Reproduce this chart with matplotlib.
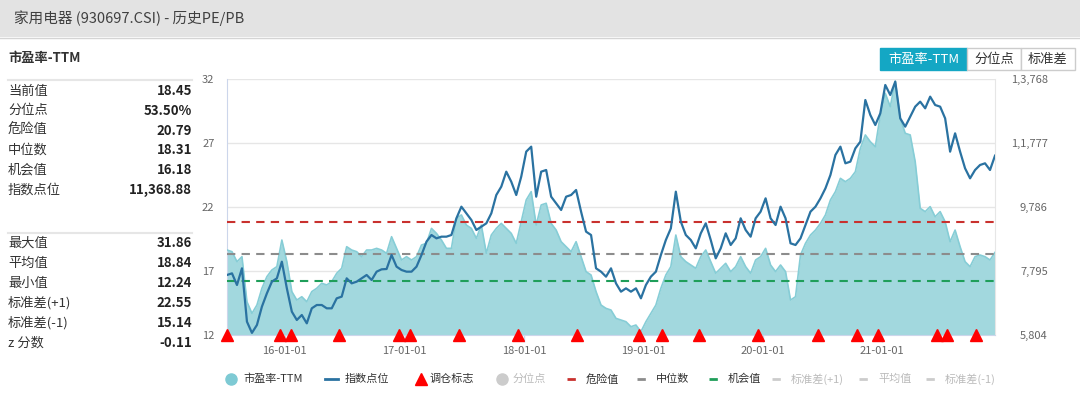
import matplotlib
matplotlib.use("Agg")
import matplotlib.pyplot as plt
from matplotlib.lines import Line2D
from matplotlib.patches import Rectangle
import numpy as np
import pandas as pd

plt.rcParams['font.family'] = ['Noto Sans CJK SC', 'DejaVu Sans']

# ---------------- data ----------------
start_date = "2015-07-08"
end_date = "2021-12-12"

pe_values = [
    18.64, 18.51, 17.73, 18.12, 14.60, 13.69, 14.34, 15.65, 16.56, 17.08,
    17.34, 19.42, 17.73, 15.39, 14.73, 14.99, 14.60, 15.39, 15.65, 16.04,
    15.91, 16.17, 16.82, 17.21, 18.90, 18.64, 18.51, 18.12, 18.64, 18.64,
    18.77,
    18.64, 18.38, 19.68, 18.77, 17.86, 18.12, 17.86, 18.12, 19.03, 19.16,
    20.33, 19.94, 19.42, 18.77, 18.77, 21.11, 21.38, 20.59, 20.33, 19.55,
    20.59, 18.38, 19.81, 20.33, 20.72, 20.33, 19.94, 19.16, 20.85, 22.55,
    23.20,
    20.59, 22.16, 22.29, 20.72, 20.20, 19.29, 18.90, 18.51, 19.29, 18.12,
    16.95, 16.69, 15.39, 14.34, 14.08, 13.95, 13.30, 13.17, 13.04, 12.65,
    12.78, 12.26, 13.04, 13.69, 14.34, 15.65, 16.69, 17.34, 19.81, 18.12,
    17.73,
    17.47, 17.21, 18.12, 18.64, 17.73, 16.82, 17.21, 17.60, 16.95, 17.34,
    18.12, 17.34, 16.82, 17.86, 18.12, 18.77, 17.47, 16.95, 17.47, 16.95,
    14.73, 14.99, 18.25, 19.16, 19.81, 20.20, 20.72, 21.38, 22.55, 23.20,
    24.24,
    23.98, 24.24, 24.76, 26.58, 27.63, 27.10, 26.71, 29.19, 30.88, 29.84,
    31.84, 28.93, 27.76, 27.63, 25.54, 21.90, 21.64, 22.03, 21.24, 21.64,
    20.85, 19.29, 20.20, 18.90, 17.73, 17.34, 18.12, 18.25, 18.12, 17.86,
    18.45,
]

index_values = [
    7671, 7722, 7360, 7878, 6219, 5870, 6115, 6686, 7100, 7463,
    7567, 8085, 7256, 6530, 6271, 6426, 6167, 6634, 6737, 6737,
    6634, 6634, 6945, 6997, 7567, 7411, 7463, 7567, 7671, 7515,
    7774,
    7847, 7857, 8293, 7930, 7826, 7774, 7774, 7930, 8293, 8708,
    8915, 8811, 8863, 8863, 8915, 9434, 9796, 9589, 9382, 9071,
    9174, 9278, 9589, 10159, 10419, 10885, 10574, 10159, 10730, 11508,
    11663,
    10107, 10885, 10937, 10107, 9900, 9693, 10107, 10159, 10315, 9641,
    9019, 8915, 7878, 7774, 7619, 7878, 7411, 7152, 7256, 7152,
    7256, 6945, 7360, 7619, 7774, 8293, 8760, 9122, 10263, 9330,
    8915,
    8760, 8500, 8967, 9278, 8760, 8189, 8500, 8967, 8604, 8811,
    9434, 9071, 8863, 9434, 9641, 10056, 9434, 9226, 9796, 9434,
    8656, 8604, 8811, 9226, 9641, 9796, 10056, 10367, 10782, 11404,
    11663,
    11145, 11197, 11611, 11819, 13115, 12648, 12337, 12700, 13582, 13270,
    13685, 12544, 12285, 12596, 12908, 13063, 12856, 13219, 12959, 12908,
    12544, 11508, 12078, 11508, 10989, 10678, 10937, 11093, 11145, 10937,
    11383,
]

trade_dates = [
    "2015-07-08", "2015-12-16", "2016-01-19", "2016-06-16", "2016-12-15",
    "2017-01-18", "2017-06-16", "2017-12-15", "2018-06-14", "2018-12-20",
    "2019-03-01", "2019-06-21", "2019-12-18", "2020-06-19", "2020-10-16",
    "2020-12-18", "2021-06-18", "2021-07-19", "2021-10-16",
]

pe_ticks = [12, 17, 22, 27, 32]
index_ticks = [5804, 7795, 9786, 11777, 13768]
index_tick_labels = ["5,804", "7,795", "9,786", "1,1,777", "1,3,768"]
x_tick_dates = ["2016-01-01", "2017-01-01", "2018-01-01", "2019-01-01",
                "2020-01-01", "2021-01-01"]
x_tick_labels = ["16-01-01", "17-01-01", "18-01-01", "19-01-01",
                 "20-01-01", "21-01-01"]

danger_value = 20.79
median_value = 18.31
chance_value = 16.18

stats_top = [("当前值", "18.45"), ("分位点", "53.50%"), ("危险值", "20.79"),
             ("中位数", "18.31"), ("机会值", "16.18"), ("指数点位", "11,368.88")]
stats_bottom = [("最大值", "31.86"), ("平均值", "18.84"), ("最小值", "12.24"),
                ("标准差(+1)", "22.55"), ("标准差(-1)", "15.14"), ("z 分数", "-0.11")]

# ---------------- figure ----------------
W, H = 1080, 393
fig = plt.figure(figsize=(W / 100, H / 100), dpi=100)
fig.patch.set_facecolor("white")


def fx(px):
    return px / W


def fy(py):
    return 1 - py / H


# header band
fig.patches.append(Rectangle((0, fy(37)), 1, 37 / H, transform=fig.transFigure,
                             facecolor="#e3e3e3", edgecolor="none", zorder=0))
fig.add_artist(Line2D([0, 1], [fy(37.5), fy(37.5)], color="#d4d4d4", lw=1))
fig.text(fx(14), fy(18), "家用电器 (930697.CSI) - 历史PE/PB", fontsize=10.5,
         color="#404040", va="center", ha="left")

# left panel
fig.text(fx(8), fy(58), "市盈率-TTM", fontsize=9.5, fontweight="bold",
         color="#333333", va="center", ha="left")
fig.add_artist(Line2D([fx(8), fx(192)], [fy(80), fy(80)], color="#e6e6e6", lw=1.5))
fig.add_artist(Line2D([fx(8), fx(192)], [fy(233), fy(233)], color="#e6e6e6", lw=1.5))
for i, (lab, val) in enumerate(stats_top):
    yy = 91 + i * 19.8
    fig.text(fx(8), fy(yy), lab, fontsize=9.5, color="#333333", va="center", ha="left")
    fig.text(fx(192), fy(yy), val, fontsize=9.5, color="#222222", fontweight="bold",
             va="center", ha="right")
for i, (lab, val) in enumerate(stats_bottom):
    yy = 243 + i * 20
    fig.text(fx(8), fy(yy), lab, fontsize=9.5, color="#333333", va="center", ha="left")
    fig.text(fx(192), fy(yy), val, fontsize=9.5, color="#222222", fontweight="bold",
             va="center", ha="right")

# buttons
fig.patches.append(Rectangle((fx(880), fy(70)), (967 - 880) / W, 22 / H,
                             transform=fig.transFigure, facecolor="#14a7c4",
                             edgecolor="#14a7c4", lw=1))
fig.text(fx(923.5), fy(59), "市盈率-TTM", fontsize=9.5, color="white", ha="center", va="center")
for x0, x1, lab in [(967, 1021, "分位点"), (1021, 1075, "标准差")]:
    fig.patches.append(Rectangle((fx(x0), fy(70)), (x1 - x0) / W, 22 / H,
                                 transform=fig.transFigure, facecolor="white",
                                 edgecolor="#cccccc", lw=1))
    fig.text(fx((x0 + x1) / 2), fy(59), lab, fontsize=9.5, color="#333333",
             ha="center", va="center")

# ---------------- axes ----------------
dates = pd.date_range(start_date, end_date, periods=len(pe_values))
ax = fig.add_axes([fx(227), 58 / H, 768 / W, 256 / H])
ax.set_xlim(pd.Timestamp(start_date), pd.Timestamp(end_date))
ax.set_ylim(12, 32)

ax.yaxis.grid(True, color="#e6e6e6", lw=1)
ax.set_axisbelow(True)
ax.fill_between(dates, pe_values, 12, color="#a2d8de", lw=0, zorder=2)
ax.plot(dates, pe_values, color="#86cdd6", lw=1.2, zorder=3)

dash = (0, (4, 3))
ax.axhline(danger_value, color="#c9312e", lw=1.5, ls=dash, zorder=4)
ax.axhline(median_value, color="#8c8c8c", lw=1.5, ls=dash, zorder=4)
ax.axhline(chance_value, color="#1f9e5a", lw=1.5, ls=dash, zorder=4)

ax.set_yticks(pe_ticks)
ax.set_yticklabels([str(t) for t in pe_ticks])
ax.tick_params(axis="y", length=0, pad=9, labelsize=8, labelcolor="#666666")
ax.set_xticks([pd.Timestamp(d) for d in x_tick_dates])
ax.set_xticklabels(x_tick_labels)
ax.tick_params(axis="x", length=5, width=1, color="#ccd6eb", pad=3,
               labelsize=8, labelcolor="#666666")

ax.spines["top"].set_visible(False)
ax.spines["left"].set_color("#ccd6eb")
ax.spines["bottom"].set_color("#ccd6eb")
ax.spines["right"].set_color("#e6e6e6")

ax2 = ax.twinx()
ax2.set_ylim(index_ticks[0], index_ticks[-1])
ax2.plot(dates, index_values, color="#2a72a1", lw=1.6, zorder=5)
ax2.set_yticks(index_ticks)
ax2.set_yticklabels(index_tick_labels)
ax2.tick_params(axis="y", length=0, pad=38, labelsize=8, labelcolor="#666666")
for lbl in ax2.get_yticklabels():
    lbl.set_horizontalalignment("right")
for s in ax2.spines.values():
    s.set_visible(False)

tdates = [pd.Timestamp(d) for d in trade_dates]
ax2.plot(tdates, np.zeros(len(tdates)), ls="none", marker="^", ms=8.5,
         color="#ff0000", mec="#ff0000", transform=ax2.get_xaxis_transform(),
         clip_on=False, zorder=10)

# ---------------- legend ----------------
LY = 379
active = "#333333"
inactive = "#bbbbbb"
fig.add_artist(Line2D([fx(231)], [fy(LY)], marker="o", ms=8, color="#7ecad4", ls="none"))
fig.text(fx(243), fy(LY), "市盈率-TTM", fontsize=8, color=active, va="center")
fig.add_artist(Line2D([fx(325), fx(338)], [fy(LY), fy(LY)], color="#2a72a1", lw=2))
fig.text(fx(345), fy(LY), "指数点位", fontsize=8, color=active, va="center")
fig.add_artist(Line2D([fx(421)], [fy(LY)], marker="^", ms=8, color="#ff0000", ls="none"))
fig.text(fx(430), fy(LY), "调仓标志", fontsize=8, color=active, va="center")
fig.add_artist(Line2D([fx(502)], [fy(LY)], marker="o", ms=8, color="#cccccc", ls="none"))
fig.text(fx(513), fy(LY), "分位点", fontsize=8, color=inactive, va="center")
leg_dash = (0, (3, 2, 1, 2))
for x0, col, lab, tcol in [(567, "#c9312e", "危险值", active),
                           (637, "#8c8c8c", "中位数", active),
                           (709, "#1f9e5a", "机会值", active),
                           (772, "#cccccc", "标准差(+1)", inactive),
                           (859, "#cccccc", "平均值", inactive),
                           (926, "#cccccc", "标准差(-1)", inactive)]:
    fig.add_artist(Line2D([fx(x0), fx(x0 + 13)], [fy(LY), fy(LY)], color=col,
                          lw=2, ls=leg_dash))
    fig.text(fx(x0 + 19), fy(LY), lab, fontsize=8, color=tcol, va="center")

fig.savefig("out.png", dpi=100, facecolor="white")
